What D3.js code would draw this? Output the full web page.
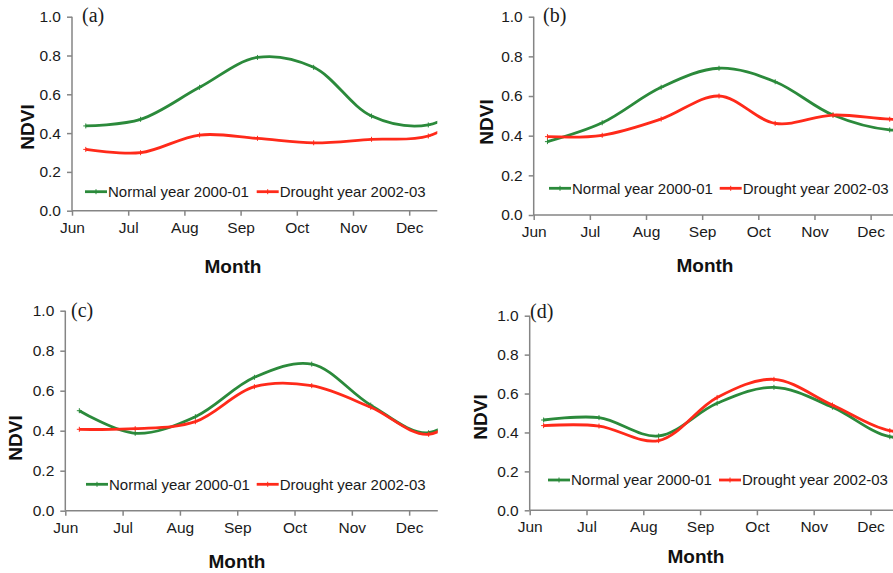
<!DOCTYPE html>
<html>
<head>
<meta charset="utf-8">
<script src="https://cdn.jsdelivr.net/npm/d3@7.9.0/dist/d3.min.js"></script>
<style>
  html, body { margin: 0; padding: 0; background: #fff; }
  svg { display: block; }
  .tick text { font-family: "Liberation Sans", Arial, sans-serif; font-size: 15.5px; fill: #1a1a1a; }
</style>
</head>
<body>
<svg id="chart" width="893" height="573"></svg>
<script>
// month ticks and where each composite sits (in months from 1 Jun)
const months = ['Jun', 'Jul', 'Aug', 'Sep', 'Oct', 'Nov', 'Dec'];
const obsPos = [0.245, 1.22, 2.27, 3.3, 4.3, 5.33, 6.34, 7.34];
const yTicks = [0, 0.2, 0.4, 0.6, 0.8, 1.0];
const seriesNames = ['Normal year 2000-01', 'Drought year 2002-03'];

// NDVI, one pair per panel
const normalA  = [0.437, 0.471, 0.636, 0.790, 0.739, 0.488, 0.442, 0.60];
const droughtA = [0.316, 0.299, 0.390, 0.373, 0.350, 0.368, 0.385, 0.55];
const normalB  = [0.370, 0.465, 0.644, 0.740, 0.672, 0.504, 0.429, 0.45];
const droughtB = [0.395, 0.402, 0.484, 0.600, 0.462, 0.504, 0.483, 0.48];
const normalC  = [0.500, 0.387, 0.470, 0.667, 0.733, 0.528, 0.390, 0.60];
const droughtC = [0.407, 0.410, 0.445, 0.620, 0.625, 0.517, 0.382, 0.58];
const normalD  = [0.464, 0.476, 0.382, 0.550, 0.632, 0.530, 0.378, 0.40];
const droughtD = [0.435, 0.433, 0.358, 0.580, 0.673, 0.541, 0.409, 0.42];

const colors = ['#2b8a3b', '#ff2a1a'];
const font = '"Liberation Sans", Arial, sans-serif';

// panel placement (pixels)
const panels = [
  {tag:'(a)', normal:normalA, drought:droughtA, x0:72,    x1:437.3, y0:210.7, y1:16.7,
   tagX:82,  tagY:22,  yLab:[27, 127],  xLab:[233, 273], legY:191.7, legX:[85, 256.7]},
  {tag:'(b)', normal:normalB, drought:droughtB, x0:533.7, x1:898.7, y0:215,   y1:16.7,
   tagX:543, tagY:22,  yLab:[486, 122], xLab:[705, 272], legY:188.3, legX:[549, 719.7]},
  {tag:'(c)', normal:normalC, drought:droughtC, x0:65.3,  x1:437.8, y0:510.7, y1:310.7,
   tagX:71,  tagY:317, yLab:[15, 438],  xLab:[237, 568], legY:484.3, legX:[86, 256.7]},
  {tag:'(d)', normal:normalD, drought:droughtD, x0:529.7, x1:898.9, y0:510.3, y1:315.7,
   tagX:530, tagY:318, yLab:[480, 417], xLab:[696, 563], legY:480,   legX:[548, 719]}
];

const svg = d3.select('#chart');

panels.forEach((p, i) => {
  const x = d3.scaleLinear().domain([0, 6.5]).range([p.x0, p.x1]);
  const y = d3.scaleLinear().domain([0, 1]).range([p.y0, p.y1]);
  const g = svg.append('g');

  g.append('clipPath').attr('id', `clip${i}`)
    .append('rect')
    .attr('x', p.x0).attr('y', p.y1 - 5)
    .attr('width', p.x1 - p.x0).attr('height', p.y0 - p.y1 + 5);

  // axes
  const yAx = g.append('g')
    .attr('transform', `translate(${p.x0},0)`)
    .call(d3.axisLeft(y).tickValues(yTicks).tickFormat(d3.format('.1f')).tickSize(5).tickPadding(6));
  const xAx = g.append('g')
    .attr('transform', `translate(0,${p.y0})`)
    .call(d3.axisBottom(x).tickValues(d3.range(months.length)).tickFormat(d => months[d]).tickSize(5).tickPadding(6));
  [yAx, xAx].forEach(a => {
    a.select('.domain').attr('stroke', '#858585').attr('stroke-width', 1.5);
    a.selectAll('.tick line').attr('stroke', '#858585').attr('stroke-width', 1.5);
  });
  yAx.select('.domain').attr('d', `M-0,${p.y0}V${p.y1}`);
  xAx.select('.domain').attr('d', `M${p.x0},0H${p.x1}`);

  // smoothed lines with small + markers
  const line = d3.line()
    .x((d, k) => x(obsPos[k]))
    .y(d => y(d))
    .curve(d3.curveCatmullRom.alpha(0.5));

  const plot = g.append('g').attr('clip-path', `url(#clip${i})`);
  [p.normal, p.drought].forEach((vals, s) => {
    plot.append('path')
      .attr('d', line(vals))
      .attr('fill', 'none')
      .attr('stroke', colors[s])
      .attr('stroke-width', 2.8);
    plot.selectAll(null)
      .data(vals.slice(0, 7))
      .join('path')
      .attr('d', (d, k) => `M${x(obsPos[k]) - 2.5},${y(d)}h5M${x(obsPos[k])},${y(d) - 2.5}v5`)
      .attr('stroke', colors[s])
      .attr('stroke-width', 1);
  });

  // legend
  seriesNames.forEach((name, s) => {
    const lx = p.legX[s];
    g.append('line')
      .attr('x1', lx).attr('x2', lx + 22)
      .attr('y1', p.legY).attr('y2', p.legY)
      .attr('stroke', colors[s]).attr('stroke-width', 2.8);
    g.append('path')
      .attr('d', `M${lx + 8.5},${p.legY}h5M${lx + 11},${p.legY - 2.5}v5`)
      .attr('stroke', colors[s]).attr('stroke-width', 1);
    g.append('text')
      .attr('x', lx + 23).attr('y', p.legY)
      .attr('dy', '0.35em')
      .attr('font-family', font).attr('font-size', 15).attr('fill', '#1a1a1a')
      .text(name);
  });

  // titles
  g.append('text')
    .attr('x', p.tagX).attr('y', p.tagY)
    .attr('font-family', '"Liberation Serif", "Times New Roman", serif')
    .attr('font-size', 20).attr('fill', '#1a1a1a')
    .text(p.tag);
  g.append('text')
    .attr('transform', `translate(${p.yLab[0]},${p.yLab[1]}) rotate(-90)`)
    .attr('text-anchor', 'middle').attr('dy', '0.35em')
    .attr('font-family', font).attr('font-size', 19).attr('font-weight', 'bold')
    .attr('fill', '#111')
    .text('NDVI');
  g.append('text')
    .attr('x', p.xLab[0]).attr('y', p.xLab[1])
    .attr('text-anchor', 'middle')
    .attr('font-family', font).attr('font-size', 19).attr('font-weight', 'bold')
    .attr('fill', '#111')
    .text('Month');
});
</script>
</body>
</html>
